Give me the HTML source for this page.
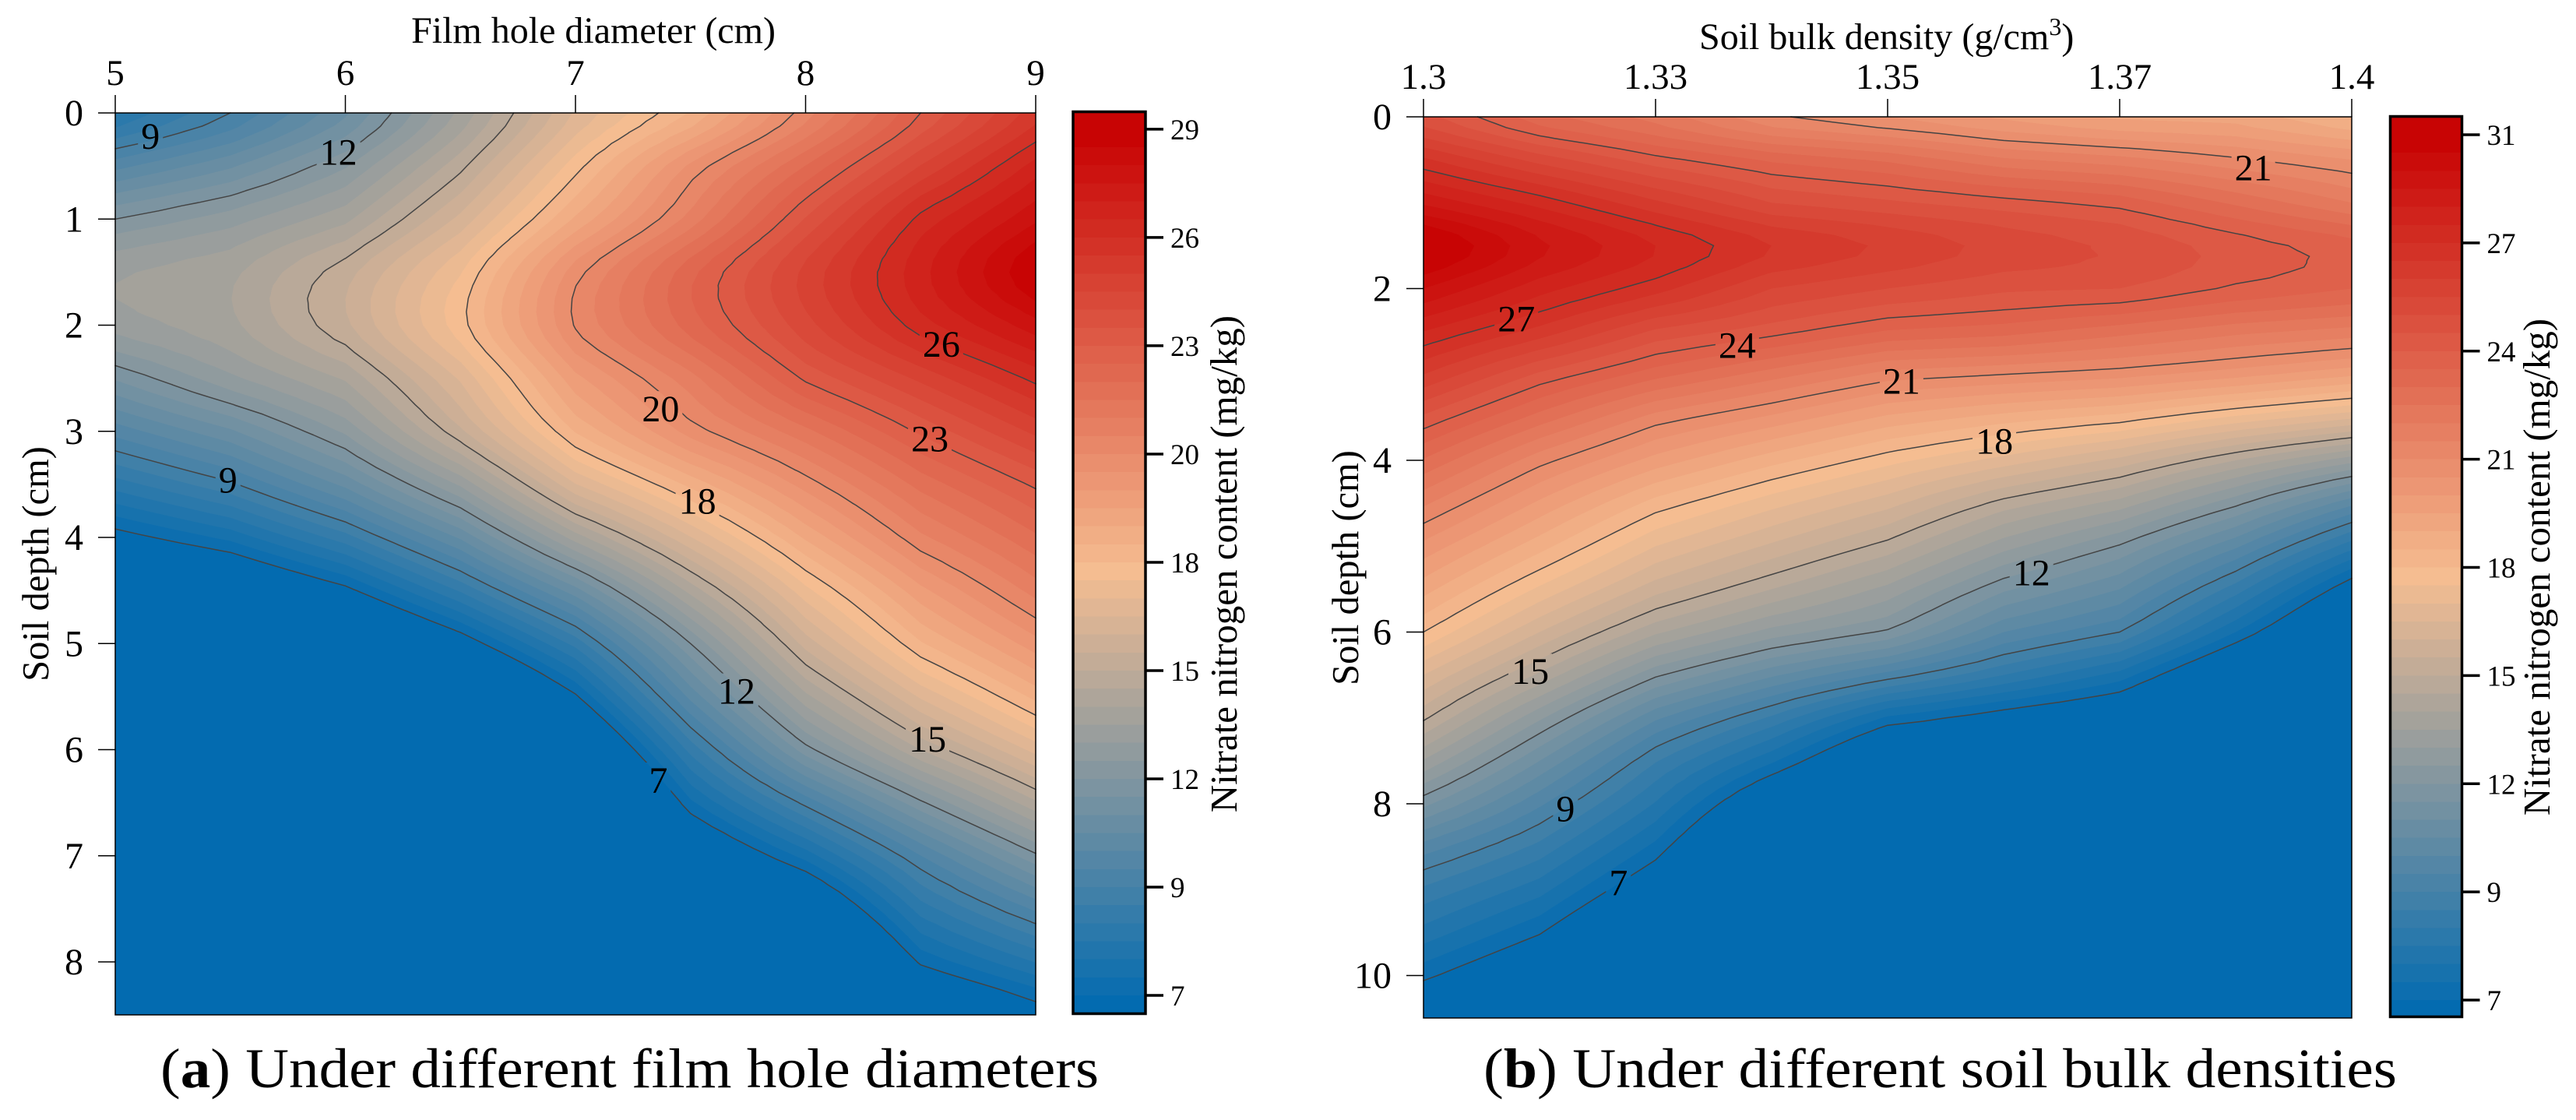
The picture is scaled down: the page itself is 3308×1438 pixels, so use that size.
<!DOCTYPE html>
<html lang="en">
<head>
<meta charset="utf-8">
<title>Nitrate nitrogen contour charts</title>
<style>
html,body{margin:0;padding:0;background:#fff;}
svg{display:block;}
text{font-family:"Liberation Serif",serif;fill:#000;}
</style>
</head>
<body>
<svg id="chart" xmlns="http://www.w3.org/2000/svg" width="3308" height="1438" viewBox="0 0 3308 1438">
  <rect x="0" y="0" width="3308" height="1438" fill="#fff"/>
  <text x="762" y="55" font-size="48" text-anchor="middle">Film hole diameter (cm)</text>
  <text transform="translate(62,724) rotate(-90)" font-size="48.5" text-anchor="middle">Soil depth (cm)</text>
  <text transform="translate(1588,724) rotate(-90)" font-size="49" text-anchor="middle">Nitrate nitrogen content (mg/kg)</text>
  <text x="206" y="1396" font-size="72" textLength="1205" lengthAdjust="spacingAndGlyphs">(<tspan font-weight="bold">a</tspan>) Under different film hole diameters</text>
  <text x="2182" y="63" font-size="48">Soil bulk density (g/cm<tspan font-size="32" dy="-18">3</tspan><tspan dy="18">)</tspan></text>
  <text transform="translate(1744,729) rotate(-90)" font-size="48.5" text-anchor="middle">Soil depth (cm)</text>
  <text transform="translate(3274,728) rotate(-90)" font-size="49" text-anchor="middle">Nitrate nitrogen content (mg/kg)</text>
  <text x="1905" y="1396" font-size="72" textLength="1173" lengthAdjust="spacingAndGlyphs">(<tspan font-weight="bold">b</tspan>) Under different soil bulk densities</text>
</svg>
<script>
/* ---------- Panel (a) data ---------- */
const aColumns = [5, 5.5, 6, 6.5, 7, 7.5, 8, 8.5, 9];
const aDepths = [0, 0.5, 1, 1.5, 2, 2.5, 3, 3.5, 4, 4.5, 5, 5.5, 6, 6.5, 7, 7.5, 8, 8.5];
const aValues = [
  [8.4, 9.75, 11.5, 14.0, 16.7, 18.5, 21.0, 23.5, 25.6],
  [10.5, 11.5, 12.9, 15.1, 17.8, 20.4, 22.6, 24.9, 26.9],
  [12.5, 13.2, 14.2, 16.3, 19.0, 21.4, 24.0, 26.4, 28.0],
  [13.8, 14.2, 15.5, 17.5, 20.55, 22.9, 25.0, 27.0, 29.0],
  [13.6, 14.2, 15.6, 17.8, 20.8, 22.8, 24.7, 26.5, 27.9],
  [12.1, 13.3, 14.4, 16.7, 19.7, 21.5, 23.6, 25.0, 26.4],
  [10.4, 11.5, 13.05, 15.6, 18.5, 20.5, 22.0, 23.6, 25.0],
  [8.6, 9.65, 11.25, 13.5, 16.6, 18.6, 20.5, 22.3, 23.6],
  [6.7, 7.6, 9.1, 11.2, 14.1, 16.6, 19.0, 21.1, 22.5],
  [4.9, 5.5, 6.8, 8.9, 11.4, 14.5, 17.4, 19.7, 21.4],
  [3.5, 3.8, 4.6, 6.5, 9.0, 12.5, 15.9, 18.4, 20.1],
  [3, 3, 3.2, 4.2, 6.9, 10.8, 14.2, 16.7, 18.6],
  [3, 3, 3, 3, 4.9, 9.0, 12.3, 14.8, 16.8],
  [3, 3, 3, 3, 3.2, 7.35, 9.9, 12.4, 14.7],
  [3, 3, 3, 3, 3, 5.6, 7.65, 10.2, 12.4],
  [3, 3, 3, 3, 3, 4.0, 5.5, 8.6, 10.3],
  [3, 3, 3, 3, 3, 3, 3.8, 7.1, 8.4],
  [3, 3, 3, 3, 3, 3, 3, 5.4, 6.7]
];
const aXTicks = [5, 6, 7, 8, 9];
const aXTickLabels = ['5', '6', '7', '8', '9'];
const aYTicks = [0, 1, 2, 3, 4, 5, 6, 7, 8];
const aYTickLabels = ['0', '1', '2', '3', '4', '5', '6', '7', '8'];
const aContourLevels = [7, 9.75, 12.5, 15.25, 18, 20.75, 23.5, 26.25];
const aColorTicks = [7, 9.75, 12.5, 15.25, 18, 20.75, 23.5, 26.25, 29];
const aColorTickLabels = ['7', '9', '12', '15', '18', '20', '23', '26', '29'];
const aLabelTexts = ['9', '12', '26', '20', '23', '9', '18', '12', '15', '7'];
const aLabelColumns = [5.153, 5.97, 8.59, 7.37, 8.54, 5.49, 7.53, 7.7, 8.53, 7.36];
const aLabelDepths = [0.22, 0.37, 2.18, 2.79, 3.07, 3.46, 3.66, 5.45, 5.9, 6.29];

/* ---------- Panel (b) data ---------- */
const bColumns = [1.3, 1.3125, 1.325, 1.3375, 1.35, 1.3625, 1.375, 1.3875, 1.4];
const bDepths = [0, 0.5, 1, 1.5, 2, 2.5, 3, 3.5, 4, 4.5, 5, 5.5, 6, 6.5, 7, 7.5, 8, 8.5, 9, 9.5, 10, 10.5];
const bValues = [
  [25.7, 24.2, 23.3, 22.1, 21.5, 20.9, 20.4, 20.3, 19.5],
  [27.6, 26.3, 25.2, 24.4, 23.9, 23.1, 22.7, 22.1, 21.5],
  [29.4, 28.3, 27.1, 26.0, 25.6, 25.2, 24.8, 23.9, 23.0],
  [31.2, 29.6, 28.5, 27.5, 26.9, 26.3, 25.9, 25.25, 24.7],
  [30.0, 28.7, 27.7, 26.5, 26.0, 25.6, 25.5, 24.9, 24.5],
  [28.5, 27.3, 25.9, 25.2, 24.45, 24.2, 23.7, 23.15, 22.8],
  [27.0, 25.4, 24.2, 23.25, 22.3, 22.0, 21.7, 21.2, 20.6],
  [25.4, 23.8, 22.3, 21.4, 20.4, 19.8, 19.3, 18.4, 17.6],
  [23.95, 22.2, 20.8, 19.7, 18.7, 17.8, 16.85, 15.5, 14.2],
  [22.6, 20.9, 19.3, 18.2, 17.2, 15.8, 14.8, 13.15, 11.15],
  [21.35, 19.7, 18.0, 16.9, 15.8, 14.2, 12.95, 11.1, 8.7],
  [20.2, 18.4, 16.7, 15.5, 14.35, 12.6, 11.5, 9.25, 6.5],
  [19.0, 17.0, 15.1, 13.8, 12.9, 11.0, 10.0, 7.5, 4.9],
  [17.5, 15.4, 13.1, 11.6, 10.3, 9.0, 7.8, 5.5, 3.7],
  [16.1, 13.6, 11.1, 9.4, 7.4, 6.6, 5.9, 4.2, 3],
  [14.45, 12.0, 9.55, 7.6, 5.4, 5.3, 4.6, 3.2, 3],
  [12.65, 10.6, 8.45, 5.8, 4.2, 4, 3.4, 3, 3],
  [10.8, 9.35, 7.35, 4.4, 3.2, 3, 3, 3, 3],
  [9.4, 8.2, 6.2, 3.2, 3, 3, 3, 3, 3],
  [8.3, 7.05, 5, 3, 3, 3, 3, 3, 3],
  [7.15, 5.9, 4, 3, 3, 3, 3, 3, 3],
  [6.0, 4.8, 3, 3, 3, 3, 3, 3, 3]
];
const bXTicks = [1.3, 1.325, 1.35, 1.375, 1.4];
const bXTickLabels = ['1.3', '1.33', '1.35', '1.37', '1.4'];
const bYTicks = [0, 2, 4, 6, 8, 10];
const bYTickLabels = ['0', '2', '4', '6', '8', '10'];
const bContourLevels = [7, 10, 13, 16, 19, 22, 25, 28];
const bColorTicks = [7, 10, 13, 16, 19, 22, 25, 28, 31];
const bColorTickLabels = ['7', '9', '12', '15', '18', '21', '24', '27', '31'];
const bLabelTexts = ['21', '27', '24', '21', '18', '12', '15', '9', '7'];
const bLabelColumns = [1.3894, 1.31, 1.3338, 1.3515, 1.3615, 1.3655, 1.3115, 1.3153, 1.321];
const bLabelDepths = [0.595, 2.355, 2.66, 3.08, 3.78, 5.31, 6.46, 8.06, 8.92];

/* ---------- Colour ramp ---------- */
const rampLow = [3, 107, 176];
const rampMid = [245, 189, 145];
const rampHigh = [200, 4, 4];

function rampColor(t) {
  const c = t < 0.5 ? rampLow.map((v, i) => v + (rampMid[i] - v) * t * 2)
                    : rampMid.map((v, i) => v + (rampHigh[i] - v) * (t - 0.5) * 2);
  return 'rgb(' + c.map(Math.round).join(',') + ')';
}

const svg = document.getElementById('chart');
const NS = 'http://www.w3.org/2000/svg';

function make(tag, attrs, parent) {
  const e = document.createElementNS(NS, tag);
  for (const k in attrs) e.setAttribute(k, attrs[k]);
  parent.appendChild(e);
  return e;
}

function clipAbove(tri, level) {
  const out = [];
  for (let i = 0; i < tri.length; i++) {
    const a = tri[i], b = tri[(i + 1) % tri.length];
    const aIn = a[2] >= level, bIn = b[2] >= level;
    if (aIn) out.push(a);
    if (aIn !== bIn) {
      const f = (level - a[2]) / (b[2] - a[2]);
      out.push([a[0] + (b[0] - a[0]) * f, a[1] + (b[1] - a[1]) * f, level]);
    }
  }
  return out;
}

function contourSegment(tri, level) {
  const pts = [];
  for (let i = 0; i < 3; i++) {
    const a = tri[i], b = tri[(i + 1) % 3];
    if ((a[2] >= level) !== (b[2] >= level)) {
      const f = (level - a[2]) / (b[2] - a[2]);
      pts.push([a[0] + (b[0] - a[0]) * f, a[1] + (b[1] - a[1]) * f]);
    }
  }
  return pts.length === 2 ? pts : null;
}

/* Rendering-only refinement: Catmull-Rom along depth so contour curves stay smooth. */
function refineRows(depths, values, factor) {
  const outDepths = [], outValues = [];
  const last = depths.length - 1;
  for (let r = 0; r < last; r++) {
    for (let s = 0; s < factor; s++) {
      const t = s / factor;
      outDepths.push(depths[r] + (depths[r + 1] - depths[r]) * t);
      outValues.push(values[r].map((_, c) => {
        const p0 = values[Math.max(r - 1, 0)][c], p1 = values[r][c];
        const p2 = values[r + 1][c], p3 = values[Math.min(r + 2, last)][c];
        return 0.5 * (2 * p1 + (p2 - p0) * t + (2 * p0 - 5 * p1 + 4 * p2 - p3) * t * t + (3 * p1 - p0 - 3 * p2 + p3) * t * t * t);
      }));
    }
  }
  outDepths.push(depths[last]);
  outValues.push(values[last].slice());
  return { depths: outDepths, values: outValues };
}

function buildPanel(p) {
  const group = make('g', {}, svg);
  
  

  const xScale = v => p.box.left + (v - p.columns[0]) / (p.columns[p.columns.length - 1] - p.columns[0]) * (p.box.right - p.box.left);
  const yScale = v => p.box.top + v * p.box.pxPerDepth;
  const colorScale = v => p.bar.y7 - (v - p.colorMin) * p.bar.pxPerUnit;

  /* triangles from the value grid */
  const fine = refineRows(p.depths, p.values, 4);
  const tris = [];
  for (let r = 0; r < fine.depths.length - 1; r++) {
    for (let c = 0; c < p.columns.length - 1; c++) {
      const x0 = xScale(p.columns[c]), x1 = xScale(p.columns[c + 1]);
      const y0 = yScale(fine.depths[r]), y1 = yScale(fine.depths[r + 1]);
      const v00 = fine.values[r][c], v10 = fine.values[r][c + 1], v01 = fine.values[r + 1][c], v11 = fine.values[r + 1][c + 1];
      const tl = [x0, y0, v00], tr = [x1, y0, v10], bl = [x0, y1, v01], br = [x1, y1, v11];
      const ctr = [(x0 + x1) / 2, (y0 + y1) / 2, (v00 + v10 + v01 + v11) / 4];
      tris.push([tl, tr, ctr], [tr, br, ctr], [br, bl, ctr], [bl, tl, ctr]);
    }
  }

  /* filled bands */
  const bandCount = 48;
  const step = (p.colorMax - p.colorMin) / bandCount;
  const base = make('rect', {
    x: p.box.left, y: p.box.top,
    width: p.box.right - p.box.left, height: p.box.bottom - p.box.top,
    fill: rampColor(0)
  }, group);
  
  

  for (let i = 0; i < bandCount; i++) {
    const level = p.colorMin + i * step;
    let d = '';
    for (const t of tris) {
      const poly = clipAbove(t, level);
      if (poly.length > 2) {
        d += 'M' + poly.map(q => q[0].toFixed(1) + ' ' + q[1].toFixed(1)).join('L') + 'Z';
      }
    }
    if (!d) continue;
    const band = make('path', {
      d: d,
      fill: rampColor((i + 1) / bandCount),
      'shape-rendering': 'crispEdges'
    }, group);
    
    
  }

  /* label gaps in the contour lines */
  const mask = make('mask', {
    id: p.id + '-label-mask', maskUnits: 'userSpaceOnUse',
    x: 0, y: 0, width: 3308, height: 1438
  }, group);
  make('rect', { x: 0, y: 0, width: 3308, height: 1438, fill: '#fff' }, mask);
  p.labelTexts.forEach((txt, i) => {
    const w = txt.length * 24 + 8;
    make('rect', {
      x: xScale(p.labelColumns[i]) - w / 2,
      y: yScale(p.labelDepths[i]) - 23,
      width: w, height: 46, fill: '#000'
    }, mask);
  });

  /* contour lines */
  const lines = make('g', { mask: 'url(#' + p.id + '-label-mask)' }, group);
  
  
  p.levels.forEach(level => {
    let d = '';
    for (const t of tris) {
      const s = contourSegment(t, level);
      if (s) d += 'M' + s[0][0].toFixed(1) + ' ' + s[0][1].toFixed(1) + 'L' + s[1][0].toFixed(1) + ' ' + s[1][1].toFixed(1);
    }
    const line = make('path', {
      d: d, fill: 'none', stroke: '#444', 'stroke-width': 1.5, 'stroke-linecap': 'round'
    }, lines);
    
    
  });

  /* contour labels */
  p.labelTexts.forEach((txt, i) => {
    const label = make('text', {
      x: xScale(p.labelColumns[i]),
      y: yScale(p.labelDepths[i]) + 16,
      'font-size': 48,
      'text-anchor': 'middle'
    }, group);
    label.textContent = txt;
    
    
  });

  /* frame */
  const frame = make('rect', {
    x: p.box.left, y: p.box.top,
    width: p.box.right - p.box.left, height: p.box.bottom - p.box.top,
    fill: 'none', stroke: '#000', 'stroke-width': 1.5
  }, group);
  
  

  /* x axis */
  p.xTicks.forEach((v, i) => {
    const tick = make('line', {
      x1: xScale(v), x2: xScale(v), y1: p.box.top - 23, y2: p.box.top,
      stroke: '#000', 'stroke-width': 1.5
    }, group);
    
    
    const label = make('text', {
      x: xScale(v), y: p.box.top - 36, 'font-size': 47, 'text-anchor': 'middle'
    }, group);
    label.textContent = p.xTickLabels[i];
    
    
  });

  /* y axis */
  p.yTicks.forEach((v, i) => {
    const tick = make('line', {
      x1: p.box.left - 22, x2: p.box.left, y1: yScale(v), y2: yScale(v),
      stroke: '#000', 'stroke-width': 1.5
    }, group);
    
    
    const label = make('text', {
      x: p.box.left - 41, y: yScale(v) + 16, 'font-size': 48, 'text-anchor': 'end'
    }, group);
    label.textContent = p.yTickLabels[i];
    
    
  });

  /* colour bar */
  const barBase = make('rect', {
    x: p.bar.x, y: p.bar.top, width: p.bar.width, height: p.bar.bottom - p.bar.top,
    fill: rampColor(0)
  }, group);
  
  
  for (let i = 0; i < bandCount; i++) {
    const lower = colorScale(p.colorMin + i * step);
    const upper = i === bandCount - 1 ? p.bar.top : colorScale(p.colorMin + (i + 1) * step);
    const swatch = make('rect', {
      x: p.bar.x, y: upper, width: p.bar.width, height: lower - upper,
      fill: rampColor((i + 1) / bandCount), 'shape-rendering': 'crispEdges'
    }, group);
    
    
  }
  const barFrame = make('rect', {
    x: p.bar.x, y: p.bar.top, width: p.bar.width, height: p.bar.bottom - p.bar.top,
    fill: 'none', stroke: '#000', 'stroke-width': 3.5
  }, group);
  
  
  const barRight = p.bar.x + p.bar.width;
  p.colorTicks.forEach((v, i) => {
    const tick = make('line', {
      x1: barRight, x2: barRight + 23, y1: colorScale(v), y2: colorScale(v),
      stroke: '#000', 'stroke-width': 3.5
    }, group);
    
    
    const label = make('text', {
      x: barRight + 32, y: colorScale(v) + 13, 'font-size': 37
    }, group);
    label.textContent = p.colorTickLabels[i];
    
    
  });
}

buildPanel({
  id: 'panel-a',
  columns: aColumns, depths: aDepths, values: aValues,
  xTicks: aXTicks, xTickLabels: aXTickLabels,
  yTicks: aYTicks, yTickLabels: aYTickLabels,
  levels: aContourLevels,
  colorTicks: aColorTicks, colorTickLabels: aColorTickLabels,
  labelTexts: aLabelTexts, labelColumns: aLabelColumns, labelDepths: aLabelDepths,
  colorMin: 7, colorMax: 29,
  box: { left: 148, right: 1330, top: 145, bottom: 1303, pxPerDepth: 136.25 },
  bar: { x: 1378, width: 93, top: 143.5, bottom: 1301.5, y7: 1278, pxPerUnit: 50.55 }
});

buildPanel({
  id: 'panel-b',
  columns: bColumns, depths: bDepths, values: bValues,
  xTicks: bXTicks, xTickLabels: bXTickLabels,
  yTicks: bYTicks, yTickLabels: bYTickLabels,
  levels: bContourLevels,
  colorTicks: bColorTicks, colorTickLabels: bColorTickLabels,
  labelTexts: bLabelTexts, labelColumns: bLabelColumns, labelDepths: bLabelDepths,
  colorMin: 7, colorMax: 31,
  box: { left: 1828, right: 3020, top: 150, bottom: 1307, pxPerDepth: 110.25 },
  bar: { x: 3069.5, width: 92, top: 149.5, bottom: 1305.5, y7: 1284, pxPerUnit: 46.29 }
});
</script>
</body>
</html>
